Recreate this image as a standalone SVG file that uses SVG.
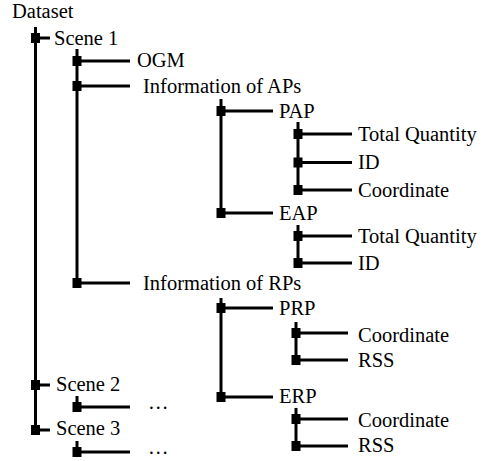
<svg xmlns="http://www.w3.org/2000/svg" xmlns:xlink="http://www.w3.org/1999/xlink" width="484" height="461" viewBox="0 0 484 461">
  <style>
    .t { font-family: "Liberation Serif", "Times New Roman", serif; font-size: 20.5px; fill: #000; }
    .ln { stroke: #000; stroke-width: 3; fill: none; }
    .sq { fill: #000; }
  </style>
  <defs>
    <!-- junction marker: small filled square centred on the point -->
    <rect id="jn" class="sq" x="-4.5" y="-5" width="9" height="10"/>
  </defs>
  <rect width="484" height="461" fill="#fff"/>

  <!-- tree connectors -->
  <g id="connectors">
    <!-- root spine -->
    <path class="ln" d="M35.5 27 V430"/>
    <path class="ln" d="M35.5 38 H50 M35.5 385 H50 M35.5 430 H50"/>
    <use xlink:href="#jn" x="35.5" y="38"/>
    <use xlink:href="#jn" x="35.5" y="385"/>
    <use xlink:href="#jn" x="35.5" y="430"/>

    <!-- Scene 1 children -->
    <path class="ln" d="M77 49 V283 M77 61 H130 M77 86 H130 M77 283 H130"/>
    <use xlink:href="#jn" x="77" y="61"/>
    <use xlink:href="#jn" x="77" y="86"/>
    <use xlink:href="#jn" x="77" y="283"/>

    <!-- Scene 2 / Scene 3 children -->
    <path class="ln" d="M77 396 V407 H130 M77 441 V452 H130"/>
    <use xlink:href="#jn" x="77" y="407"/>
    <use xlink:href="#jn" x="77" y="452"/>

    <!-- Information of APs children -->
    <path class="ln" d="M221 99 V213 M221 111 H273 M221 213 H273"/>
    <use xlink:href="#jn" x="221" y="111"/>
    <use xlink:href="#jn" x="221" y="213"/>

    <!-- PAP children -->
    <path class="ln" d="M298 122 V190 M298 134 H352 M298 162.5 H352 M298 190 H352"/>
    <use xlink:href="#jn" x="298" y="134"/>
    <use xlink:href="#jn" x="298" y="162.5"/>
    <use xlink:href="#jn" x="298" y="190"/>

    <!-- EAP children -->
    <path class="ln" d="M298 225 V263 M298 236 H352 M298 263 H352"/>
    <use xlink:href="#jn" x="298" y="236"/>
    <use xlink:href="#jn" x="298" y="263"/>

    <!-- Information of RPs children -->
    <path class="ln" d="M221 298 V397 M221 308 H273 M221 397 H273"/>
    <use xlink:href="#jn" x="221" y="308"/>
    <use xlink:href="#jn" x="221" y="397"/>

    <!-- PRP children -->
    <path class="ln" d="M296 322 V360 M296 333 H348 M296 360 H348"/>
    <use xlink:href="#jn" x="296" y="333"/>
    <use xlink:href="#jn" x="296" y="360"/>

    <!-- ERP children -->
    <path class="ln" d="M296 408 V446 M296 419 H348 M296 446 H348"/>
    <use xlink:href="#jn" x="296" y="419"/>
    <use xlink:href="#jn" x="296" y="446"/>
  </g>

  <!-- nodes -->
  <g id="dataset"><text class="t" x="12" y="18">Dataset</text></g>
  <g id="scene1"><text class="t" x="54" y="45">Scene 1</text></g>
  <g id="ogm"><text class="t" x="137" y="67">OGM</text></g>
  <g id="info-aps"><text class="t" x="143" y="93">Information of APs</text></g>
  <g id="pap"><text class="t" x="279" y="118">PAP</text></g>
  <g id="pap-total"><text class="t" x="358" y="141">Total Quantity</text></g>
  <g id="pap-id"><text class="t" x="358" y="169">ID</text></g>
  <g id="pap-coord"><text class="t" x="358" y="197">Coordinate</text></g>
  <g id="eap"><text class="t" x="279" y="220">EAP</text></g>
  <g id="eap-total"><text class="t" x="358" y="243">Total Quantity</text></g>
  <g id="eap-id"><text class="t" x="358" y="270">ID</text></g>
  <g id="info-rps"><text class="t" x="143" y="290">Information of RPs</text></g>
  <g id="prp"><text class="t" x="279" y="315">PRP</text></g>
  <g id="prp-coord"><text class="t" x="358" y="342">Coordinate</text></g>
  <g id="prp-rss"><text class="t" x="358" y="367">RSS</text></g>
  <g id="erp"><text class="t" x="279" y="403">ERP</text></g>
  <g id="erp-coord"><text class="t" x="358" y="427">Coordinate</text></g>
  <g id="erp-rss"><text class="t" x="358" y="452">RSS</text></g>
  <g id="scene2"><text class="t" x="56" y="391">Scene 2</text></g>
  <g id="scene2-more"><text class="t" x="148" y="409">…</text></g>
  <g id="scene3"><text class="t" x="56" y="435">Scene 3</text></g>
  <g id="scene3-more"><text class="t" x="148" y="454">…</text></g>
</svg>
